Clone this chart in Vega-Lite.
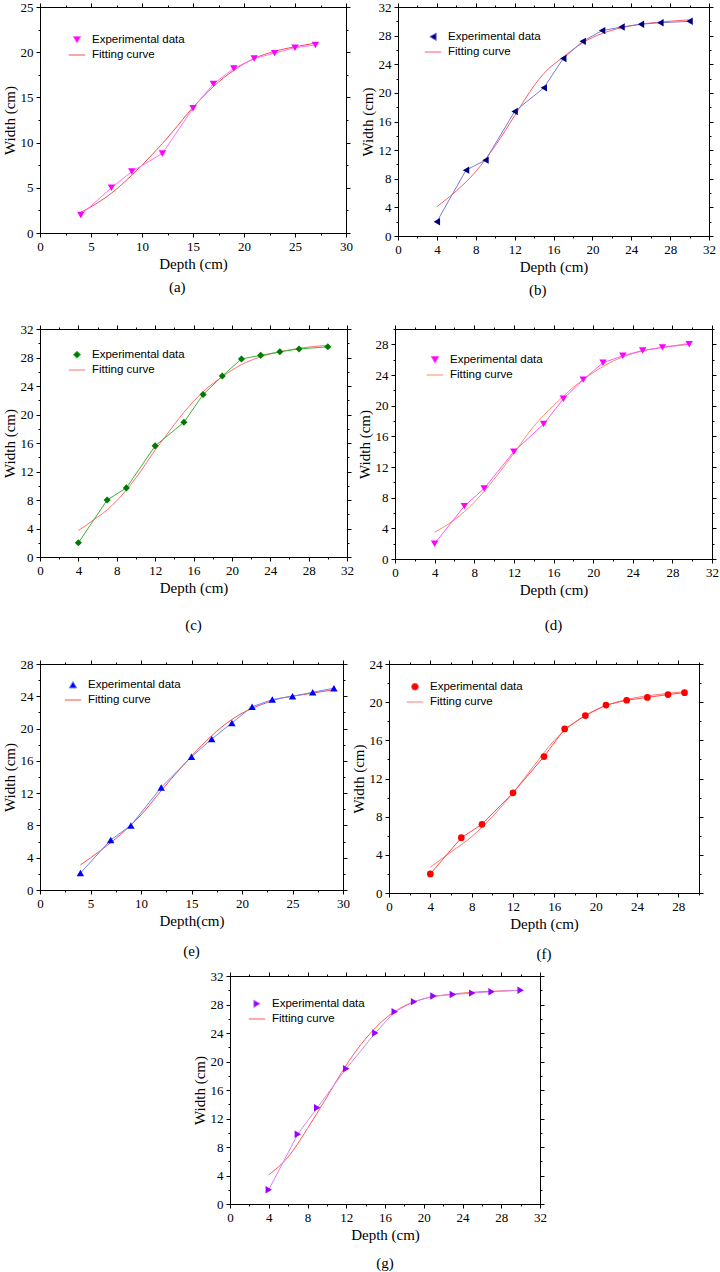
{
"$schema":"https://vega.github.io/schema/vega-lite/v6.json",
"background":"white",
"padding":{"left":1,"top":0,"right":0,"bottom":0},
"spacing":6,
"resolve":{"scale":{"stroke":"independent","fill":"independent","shape":"independent","size":"independent"},"legend":{"stroke":"independent","fill":"independent","shape":"independent","size":"independent"}},
"vconcat":[
{"spacing":23,
"resolve":{"scale":{"stroke":"independent","fill":"independent","shape":"independent","size":"independent"},"legend":{"stroke":"independent","fill":"independent","shape":"independent","size":"independent"}},
"vconcat":[
{"spacing":6,
"resolve":{"scale":{"stroke":"independent","fill":"independent","shape":"independent","size":"independent"},"legend":{"stroke":"independent","fill":"independent","shape":"independent","size":"independent"}},
"hconcat":[
{"width":306,"height":226,
"title":{"text":"(a)","orient":"bottom","offset":9,"frame":"bounds"},
"data":{"values":[
{"x":4,"y":2.0,"s":"Experimental data"},{"x":7,"y":5.0,"s":"Experimental data"},{"x":9,"y":6.8,"s":"Experimental data"},{"x":12,"y":8.8,"s":"Experimental data"},{"x":15,"y":13.8,"s":"Experimental data"},{"x":17,"y":16.5,"s":"Experimental data"},{"x":19,"y":18.2,"s":"Experimental data"},{"x":21,"y":19.3,"s":"Experimental data"},{"x":23,"y":19.9,"s":"Experimental data"},{"x":25,"y":20.5,"s":"Experimental data"},{"x":27,"y":20.8,"s":"Experimental data"},
{"x":4,"y":2.3,"s":"Fitting curve"},{"x":5,"y":2.9,"s":"Fitting curve"},{"x":7,"y":4.4,"s":"Fitting curve"},{"x":9,"y":6.4,"s":"Fitting curve"},{"x":10,"y":7.5,"s":"Fitting curve"},{"x":12,"y":9.9,"s":"Fitting curve"},{"x":13,"y":11.2,"s":"Fitting curve"},{"x":15,"y":13.9,"s":"Fitting curve"},{"x":17,"y":16.2,"s":"Fitting curve"},{"x":19,"y":18.0,"s":"Fitting curve"},{"x":21,"y":19.3,"s":"Fitting curve"},{"x":23,"y":20.1,"s":"Fitting curve"},{"x":25,"y":20.6,"s":"Fitting curve"},{"x":27,"y":21.0,"s":"Fitting curve"}
]},
"resolve":{"axis":{"x":"independent","y":"independent"}},
"layer":[
{"transform":[{"filter":"datum.s === 'Fitting curve'"}],
"mark":{"type":"line","interpolate":"monotone","strokeWidth":1},
"encoding":{
"x":{"field":"x","type":"quantitative","scale":{"domain":[0,30],"nice":false,"zero":false},"axis":{"orient":"bottom","title":"Depth (cm)","values":[0,2.5,5,7.5,10,12.5,15,17.5,20,22.5,25,27.5,30],"labelExpr":"datum.value % 5 === 0 ? datum.label : ''","tickSize":{"condition":{"test":"datum.value % 5 !== 0","value":2},"value":4}}},
"y":{"field":"y","type":"quantitative","scale":{"domain":[0,25],"nice":false,"zero":false},"axis":{"orient":"left","title":"Width (cm)","values":[0,2.5,5,7.5,10,12.5,15,17.5,20,22.5,25],"labelExpr":"datum.value % 5 === 0 ? datum.label : ''","tickSize":{"condition":{"test":"datum.value % 5 !== 0","value":2},"value":4}}},
"stroke":{"field":"s","type":"nominal","title":null,"scale":{"domain":["Experimental data","Fitting curve"],"range":["#ff70ff","#f0504a"]},"legend":{"legendX":28,"legendY":27}}}},
{"transform":[{"filter":"datum.s === 'Experimental data'"}],
"mark":{"type":"line","strokeWidth":1},
"encoding":{
"x":{"field":"x","type":"quantitative","axis":{"orient":"top","labels":false,"title":null,"values":[0,2.5,5,7.5,10,12.5,15,17.5,20,22.5,25,27.5,30],"tickSize":{"condition":{"test":"datum.value % 5 !== 0","value":2},"value":4}}},
"y":{"field":"y","type":"quantitative","axis":{"orient":"right","labels":false,"title":null,"values":[0,2.5,5,7.5,10,12.5,15,17.5,20,22.5,25],"tickSize":{"condition":{"test":"datum.value % 5 !== 0","value":2},"value":4}}},
"stroke":{"field":"s","type":"nominal","title":null,"legend":{"legendX":28,"legendY":27}}}},
{"transform":[{"filter":"datum.s === 'Experimental data'"}],
"mark":{"type":"point","filled":true,"opacity":1},
"encoding":{
"x":{"field":"x","type":"quantitative","axis":null},
"y":{"field":"y","type":"quantitative","axis":null},
"fill":{"field":"s","type":"nominal","title":null,"scale":{"domain":["Experimental data","Fitting curve"],"range":["#ff00ff","transparent"]},"legend":{"legendX":28,"legendY":27}},
"shape":{"field":"s","type":"nominal","title":null,"scale":{"domain":["Experimental data","Fitting curve"],"range":["triangle-down","stroke"]},"legend":{"legendX":28,"legendY":27}},
"size":{"field":"s","type":"ordinal","title":null,"scale":{"domain":["Experimental data","Fitting curve"],"range":[55,270]},"legend":{"legendX":28,"legendY":27}}}}
]},
{"width":311,"height":229,
"title":{"text":"(b)","orient":"bottom","offset":9,"frame":"bounds"},
"data":{"values":[
{"x":4,"y":2.0,"s":"Experimental data"},{"x":7,"y":9.2,"s":"Experimental data"},{"x":9,"y":10.6,"s":"Experimental data"},{"x":12,"y":17.4,"s":"Experimental data"},{"x":15,"y":20.7,"s":"Experimental data"},{"x":17,"y":24.8,"s":"Experimental data"},{"x":19,"y":27.2,"s":"Experimental data"},{"x":21,"y":28.7,"s":"Experimental data"},{"x":23,"y":29.2,"s":"Experimental data"},{"x":25,"y":29.6,"s":"Experimental data"},{"x":27,"y":29.8,"s":"Experimental data"},{"x":30,"y":30.0,"s":"Experimental data"},
{"x":4,"y":4.1,"s":"Fitting curve"},{"x":6,"y":6.3,"s":"Fitting curve"},{"x":8,"y":9.0,"s":"Fitting curve"},{"x":10,"y":12.6,"s":"Fitting curve"},{"x":12,"y":16.8,"s":"Fitting curve"},{"x":14,"y":21.0,"s":"Fitting curve"},{"x":15,"y":22.7,"s":"Fitting curve"},{"x":17,"y":25.0,"s":"Fitting curve"},{"x":19,"y":27.0,"s":"Fitting curve"},{"x":21,"y":28.3,"s":"Fitting curve"},{"x":23,"y":29.1,"s":"Fitting curve"},{"x":25,"y":29.6,"s":"Fitting curve"},{"x":27,"y":29.9,"s":"Fitting curve"},{"x":30,"y":30.2,"s":"Fitting curve"}
]},
"resolve":{"axis":{"x":"independent","y":"independent"}},
"layer":[
{"transform":[{"filter":"datum.s === 'Fitting curve'"}],
"mark":{"type":"line","interpolate":"monotone","strokeWidth":1},
"encoding":{
"x":{"field":"x","type":"quantitative","scale":{"domain":[0,32],"nice":false,"zero":false},"axis":{"orient":"bottom","title":"Depth (cm)","values":[0,2,4,6,8,10,12,14,16,18,20,22,24,26,28,30,32],"labelExpr":"datum.value % 4 === 0 ? datum.label : ''","tickSize":{"condition":{"test":"datum.value % 4 !== 0","value":2},"value":4}}},
"y":{"field":"y","type":"quantitative","scale":{"domain":[0,32],"nice":false,"zero":false},"axis":{"orient":"left","title":"Width (cm)","values":[0,2,4,6,8,10,12,14,16,18,20,22,24,26,28,30,32],"labelExpr":"datum.value % 4 === 0 ? datum.label : ''","tickSize":{"condition":{"test":"datum.value % 4 !== 0","value":2},"value":4}}},
"stroke":{"field":"s","type":"nominal","title":null,"scale":{"domain":["Experimental data","Fitting curve"],"range":["#7b7bd6","#ff5a6e"]},"legend":{"legendX":26,"legendY":24}}}},
{"transform":[{"filter":"datum.s === 'Experimental data'"}],
"mark":{"type":"line","strokeWidth":1},
"encoding":{
"x":{"field":"x","type":"quantitative","axis":{"orient":"top","labels":false,"title":null,"values":[0,2,4,6,8,10,12,14,16,18,20,22,24,26,28,30,32],"tickSize":{"condition":{"test":"datum.value % 4 !== 0","value":2},"value":4}}},
"y":{"field":"y","type":"quantitative","axis":{"orient":"right","labels":false,"title":null,"values":[0,2,4,6,8,10,12,14,16,18,20,22,24,26,28,30,32],"tickSize":{"condition":{"test":"datum.value % 4 !== 0","value":2},"value":4}}},
"stroke":{"field":"s","type":"nominal","title":null,"legend":{"legendX":26,"legendY":24}}}},
{"transform":[{"filter":"datum.s === 'Experimental data'"}],
"mark":{"type":"point","filled":true,"opacity":1},
"encoding":{
"x":{"field":"x","type":"quantitative","axis":null},
"y":{"field":"y","type":"quantitative","axis":null},
"fill":{"field":"s","type":"nominal","title":null,"scale":{"domain":["Experimental data","Fitting curve"],"range":["#00007f","transparent"]},"legend":{"legendX":26,"legendY":24}},
"shape":{"field":"s","type":"nominal","title":null,"scale":{"domain":["Experimental data","Fitting curve"],"range":["triangle-left","stroke"]},"legend":{"legendX":26,"legendY":24}},
"size":{"field":"s","type":"ordinal","title":null,"scale":{"domain":["Experimental data","Fitting curve"],"range":[55,270]},"legend":{"legendX":26,"legendY":24}}}}
]}
]},
{"spacing":2,
"resolve":{"scale":{"stroke":"independent","fill":"independent","shape":"independent","size":"independent"},"legend":{"stroke":"independent","fill":"independent","shape":"independent","size":"independent"}},
"hconcat":[
{"width":307,"height":228,
"title":{"text":"(c)","orient":"bottom","offset":23,"frame":"group"},
"data":{"values":[
{"x":4,"y":2.0,"s":"Experimental data"},{"x":7,"y":8.0,"s":"Experimental data"},{"x":9,"y":9.7,"s":"Experimental data"},{"x":12,"y":15.6,"s":"Experimental data"},{"x":15,"y":18.9,"s":"Experimental data"},{"x":17,"y":22.8,"s":"Experimental data"},{"x":19,"y":25.4,"s":"Experimental data"},{"x":21,"y":27.8,"s":"Experimental data"},{"x":23,"y":28.3,"s":"Experimental data"},{"x":25,"y":28.8,"s":"Experimental data"},{"x":27,"y":29.2,"s":"Experimental data"},{"x":30,"y":29.5,"s":"Experimental data"},
{"x":4,"y":3.7,"s":"Fitting curve"},{"x":6,"y":5.6,"s":"Fitting curve"},{"x":7,"y":6.6,"s":"Fitting curve"},{"x":8,"y":7.9,"s":"Fitting curve"},{"x":9,"y":9.4,"s":"Fitting curve"},{"x":10,"y":11.1,"s":"Fitting curve"},{"x":12,"y":15.0,"s":"Fitting curve"},{"x":13,"y":16.8,"s":"Fitting curve"},{"x":15,"y":20.3,"s":"Fitting curve"},{"x":17,"y":23.2,"s":"Fitting curve"},{"x":19,"y":25.3,"s":"Fitting curve"},{"x":21,"y":27.0,"s":"Fitting curve"},{"x":23,"y":28.1,"s":"Fitting curve"},{"x":25,"y":28.8,"s":"Fitting curve"},{"x":27,"y":29.3,"s":"Fitting curve"},{"x":30,"y":29.7,"s":"Fitting curve"}
]},
"resolve":{"axis":{"x":"independent","y":"independent"}},
"layer":[
{"transform":[{"filter":"datum.s === 'Fitting curve'"}],
"mark":{"type":"line","interpolate":"monotone","strokeWidth":1},
"encoding":{
"x":{"field":"x","type":"quantitative","scale":{"domain":[0,32],"nice":false,"zero":false},"axis":{"orient":"bottom","title":"Depth (cm)","values":[0,2,4,6,8,10,12,14,16,18,20,22,24,26,28,30,32],"labelExpr":"datum.value % 4 === 0 ? datum.label : ''","tickSize":{"condition":{"test":"datum.value % 4 !== 0","value":2},"value":4}}},
"y":{"field":"y","type":"quantitative","scale":{"domain":[0,32],"nice":false,"zero":false},"axis":{"orient":"left","title":"Width (cm)","values":[0,2,4,6,8,10,12,14,16,18,20,22,24,26,28,30,32],"labelExpr":"datum.value % 4 === 0 ? datum.label : ''","tickSize":{"condition":{"test":"datum.value % 4 !== 0","value":2},"value":4}}},
"stroke":{"field":"s","type":"nominal","title":null,"scale":{"domain":["Experimental data","Fitting curve"],"range":["#3cb43c","#ff7070"]},"legend":{"legendX":28,"legendY":20}}}},
{"transform":[{"filter":"datum.s === 'Experimental data'"}],
"mark":{"type":"line","strokeWidth":1},
"encoding":{
"x":{"field":"x","type":"quantitative","axis":{"orient":"top","labels":false,"title":null,"values":[0,2,4,6,8,10,12,14,16,18,20,22,24,26,28,30,32],"tickSize":{"condition":{"test":"datum.value % 4 !== 0","value":2},"value":4}}},
"y":{"field":"y","type":"quantitative","axis":{"orient":"right","labels":false,"title":null,"values":[0,2,4,6,8,10,12,14,16,18,20,22,24,26,28,30,32],"tickSize":{"condition":{"test":"datum.value % 4 !== 0","value":2},"value":4}}},
"stroke":{"field":"s","type":"nominal","title":null,"legend":{"legendX":28,"legendY":20}}}},
{"transform":[{"filter":"datum.s === 'Experimental data'"}],
"mark":{"type":"point","filled":true,"opacity":1},
"encoding":{
"x":{"field":"x","type":"quantitative","axis":null},
"y":{"field":"y","type":"quantitative","axis":null},
"fill":{"field":"s","type":"nominal","title":null,"scale":{"domain":["Experimental data","Fitting curve"],"range":["#007a00","transparent"]},"legend":{"legendX":28,"legendY":20}},
"shape":{"field":"s","type":"nominal","title":null,"scale":{"domain":["Experimental data","Fitting curve"],"range":["diamond","stroke"]},"legend":{"legendX":28,"legendY":20}},
"size":{"field":"s","type":"ordinal","title":null,"scale":{"domain":["Experimental data","Fitting curve"],"range":[50,270]},"legend":{"legendX":28,"legendY":20}}}}
]},
{"width":317,"height":230,
"title":{"text":"(d)","orient":"bottom","offset":21,"frame":"group"},
"data":{"values":[
{"x":4,"y":2.0,"s":"Experimental data"},{"x":7,"y":6.9,"s":"Experimental data"},{"x":9,"y":9.2,"s":"Experimental data"},{"x":12,"y":14.0,"s":"Experimental data"},{"x":15,"y":17.6,"s":"Experimental data"},{"x":17,"y":20.9,"s":"Experimental data"},{"x":19,"y":23.4,"s":"Experimental data"},{"x":21,"y":25.6,"s":"Experimental data"},{"x":23,"y":26.5,"s":"Experimental data"},{"x":25,"y":27.2,"s":"Experimental data"},{"x":27,"y":27.6,"s":"Experimental data"},{"x":29.7,"y":28.0,"s":"Experimental data"},
{"x":4,"y":3.5,"s":"Fitting curve"},{"x":6,"y":5.1,"s":"Fitting curve"},{"x":8,"y":7.4,"s":"Fitting curve"},{"x":10,"y":10.4,"s":"Fitting curve"},{"x":12,"y":13.8,"s":"Fitting curve"},{"x":14,"y":17.3,"s":"Fitting curve"},{"x":16,"y":20.0,"s":"Fitting curve"},{"x":18,"y":22.4,"s":"Fitting curve"},{"x":20,"y":24.3,"s":"Fitting curve"},{"x":22,"y":25.8,"s":"Fitting curve"},{"x":24,"y":26.8,"s":"Fitting curve"},{"x":26,"y":27.4,"s":"Fitting curve"},{"x":28,"y":27.8,"s":"Fitting curve"},{"x":29.7,"y":28.1,"s":"Fitting curve"}
]},
"resolve":{"axis":{"x":"independent","y":"independent"}},
"layer":[
{"transform":[{"filter":"datum.s === 'Fitting curve'"}],
"mark":{"type":"line","interpolate":"monotone","strokeWidth":1},
"encoding":{
"x":{"field":"x","type":"quantitative","scale":{"domain":[0,32],"nice":false,"zero":false},"axis":{"orient":"bottom","title":"Depth (cm)","values":[0,2,4,6,8,10,12,14,16,18,20,22,24,26,28,30,32],"labelExpr":"datum.value % 4 === 0 ? datum.label : ''","tickSize":{"condition":{"test":"datum.value % 4 !== 0","value":2},"value":4}}},
"y":{"field":"y","type":"quantitative","scale":{"domain":[0,30],"nice":false,"zero":false},"axis":{"orient":"left","title":"Width (cm)","values":[0,2,4,6,8,10,12,14,16,18,20,22,24,26,28,30],"labelExpr":"datum.value % 4 === 0 ? datum.label : ''","tickSize":{"condition":{"test":"datum.value % 4 !== 0","value":2},"value":4}}},
"stroke":{"field":"s","type":"nominal","title":null,"scale":{"domain":["Experimental data","Fitting curve"],"range":["#ff55ff","#ff8a6a"]},"legend":{"legendX":31,"legendY":25}}}},
{"transform":[{"filter":"datum.s === 'Experimental data'"}],
"mark":{"type":"line","strokeWidth":1},
"encoding":{
"x":{"field":"x","type":"quantitative","axis":{"orient":"top","labels":false,"title":null,"values":[0,2,4,6,8,10,12,14,16,18,20,22,24,26,28,30,32],"tickSize":{"condition":{"test":"datum.value % 4 !== 0","value":2},"value":4}}},
"y":{"field":"y","type":"quantitative","axis":{"orient":"right","labels":false,"title":null,"values":[0,2,4,6,8,10,12,14,16,18,20,22,24,26,28,30],"tickSize":{"condition":{"test":"datum.value % 4 !== 0","value":2},"value":4}}},
"stroke":{"field":"s","type":"nominal","title":null,"legend":{"legendX":31,"legendY":25}}}},
{"transform":[{"filter":"datum.s === 'Experimental data'"}],
"mark":{"type":"point","filled":true,"opacity":1},
"encoding":{
"x":{"field":"x","type":"quantitative","axis":null},
"y":{"field":"y","type":"quantitative","axis":null},
"fill":{"field":"s","type":"nominal","title":null,"scale":{"domain":["Experimental data","Fitting curve"],"range":["#ff00ff","transparent"]},"legend":{"legendX":31,"legendY":25}},
"shape":{"field":"s","type":"nominal","title":null,"scale":{"domain":["Experimental data","Fitting curve"],"range":["triangle-down","stroke"]},"legend":{"legendX":31,"legendY":25}},
"size":{"field":"s","type":"ordinal","title":null,"scale":{"domain":["Experimental data","Fitting curve"],"range":[55,270]},"legend":{"legendX":31,"legendY":25}}}}
]}
]},
{"spacing":0,
"resolve":{"scale":{"stroke":"independent","fill":"independent","shape":"independent","size":"independent"},"legend":{"stroke":"independent","fill":"independent","shape":"independent","size":"independent"}},
"hconcat":[
{"width":303,"height":226,
"title":{"text":"(e)","orient":"bottom","offset":16,"frame":"group"},
"data":{"values":[
{"x":4,"y":2.1,"s":"Experimental data"},{"x":7,"y":6.2,"s":"Experimental data"},{"x":9,"y":8.0,"s":"Experimental data"},{"x":12,"y":12.7,"s":"Experimental data"},{"x":15,"y":16.5,"s":"Experimental data"},{"x":17,"y":18.7,"s":"Experimental data"},{"x":19,"y":20.7,"s":"Experimental data"},{"x":21,"y":22.7,"s":"Experimental data"},{"x":23,"y":23.6,"s":"Experimental data"},{"x":25,"y":24.0,"s":"Experimental data"},{"x":27,"y":24.5,"s":"Experimental data"},{"x":29.1,"y":25.0,"s":"Experimental data"},
{"x":4,"y":3.1,"s":"Fitting curve"},{"x":6,"y":4.9,"s":"Fitting curve"},{"x":8,"y":6.9,"s":"Fitting curve"},{"x":10,"y":9.3,"s":"Fitting curve"},{"x":12,"y":12.3,"s":"Fitting curve"},{"x":14,"y":15.2,"s":"Fitting curve"},{"x":16,"y":17.9,"s":"Fitting curve"},{"x":18,"y":20.2,"s":"Fitting curve"},{"x":20,"y":21.9,"s":"Fitting curve"},{"x":22,"y":23.0,"s":"Fitting curve"},{"x":24,"y":23.8,"s":"Fitting curve"},{"x":26,"y":24.2,"s":"Fitting curve"},{"x":28,"y":24.6,"s":"Fitting curve"},{"x":29.1,"y":24.8,"s":"Fitting curve"}
]},
"resolve":{"axis":{"x":"independent","y":"independent"}},
"layer":[
{"transform":[{"filter":"datum.s === 'Fitting curve'"}],
"mark":{"type":"line","interpolate":"monotone","strokeWidth":1},
"encoding":{
"x":{"field":"x","type":"quantitative","scale":{"domain":[0,30],"nice":false,"zero":false},"axis":{"orient":"bottom","title":"Depth(cm)","values":[0,2.5,5,7.5,10,12.5,15,17.5,20,22.5,25,27.5,30],"labelExpr":"datum.value % 5 === 0 ? datum.label : ''","tickSize":{"condition":{"test":"datum.value % 5 !== 0","value":2},"value":4}}},
"y":{"field":"y","type":"quantitative","scale":{"domain":[0,28],"nice":false,"zero":false},"axis":{"orient":"left","title":"Width (cm)","values":[0,2,4,6,8,10,12,14,16,18,20,22,24,26,28],"labelExpr":"datum.value % 4 === 0 ? datum.label : ''","tickSize":{"condition":{"test":"datum.value % 4 !== 0","value":2},"value":4}}},
"stroke":{"field":"s","type":"nominal","title":null,"scale":{"domain":["Experimental data","Fitting curve"],"range":["#6a86ff","#ff4848"]},"legend":{"legendX":24,"legendY":15}}}},
{"transform":[{"filter":"datum.s === 'Experimental data'"}],
"mark":{"type":"line","strokeWidth":1},
"encoding":{
"x":{"field":"x","type":"quantitative","axis":{"orient":"top","labels":false,"title":null,"values":[0,2.5,5,7.5,10,12.5,15,17.5,20,22.5,25,27.5,30],"tickSize":{"condition":{"test":"datum.value % 5 !== 0","value":2},"value":4}}},
"y":{"field":"y","type":"quantitative","axis":{"orient":"right","labels":false,"title":null,"values":[0,2,4,6,8,10,12,14,16,18,20,22,24,26,28],"tickSize":{"condition":{"test":"datum.value % 4 !== 0","value":2},"value":4}}},
"stroke":{"field":"s","type":"nominal","title":null,"legend":{"legendX":24,"legendY":15}}}},
{"transform":[{"filter":"datum.s === 'Experimental data'"}],
"mark":{"type":"point","filled":true,"opacity":1},
"encoding":{
"x":{"field":"x","type":"quantitative","axis":null},
"y":{"field":"y","type":"quantitative","axis":null},
"fill":{"field":"s","type":"nominal","title":null,"scale":{"domain":["Experimental data","Fitting curve"],"range":["#0000ff","transparent"]},"legend":{"legendX":24,"legendY":15}},
"shape":{"field":"s","type":"nominal","title":null,"scale":{"domain":["Experimental data","Fitting curve"],"range":["triangle-up","stroke"]},"legend":{"legendX":24,"legendY":15}},
"size":{"field":"s","type":"ordinal","title":null,"scale":{"domain":["Experimental data","Fitting curve"],"range":[55,270]},"legend":{"legendX":24,"legendY":15}}}}
]},
{"width":310,"height":229,
"title":{"text":"(f)","orient":"bottom","offset":16,"frame":"group"},
"data":{"values":[
{"x":4,"y":2.0,"s":"Experimental data"},{"x":7,"y":5.8,"s":"Experimental data"},{"x":9,"y":7.2,"s":"Experimental data"},{"x":12,"y":10.5,"s":"Experimental data"},{"x":15,"y":14.3,"s":"Experimental data"},{"x":17,"y":17.2,"s":"Experimental data"},{"x":19,"y":18.6,"s":"Experimental data"},{"x":21,"y":19.7,"s":"Experimental data"},{"x":23,"y":20.2,"s":"Experimental data"},{"x":25,"y":20.5,"s":"Experimental data"},{"x":27,"y":20.8,"s":"Experimental data"},{"x":28.6,"y":21.0,"s":"Experimental data"},
{"x":4,"y":2.7,"s":"Fitting curve"},{"x":6,"y":4.3,"s":"Fitting curve"},{"x":8,"y":5.9,"s":"Fitting curve"},{"x":10,"y":8.0,"s":"Fitting curve"},{"x":12,"y":10.5,"s":"Fitting curve"},{"x":14,"y":13.3,"s":"Fitting curve"},{"x":16,"y":16.0,"s":"Fitting curve"},{"x":18,"y":17.9,"s":"Fitting curve"},{"x":20,"y":19.2,"s":"Fitting curve"},{"x":22,"y":20.0,"s":"Fitting curve"},{"x":24,"y":20.5,"s":"Fitting curve"},{"x":26,"y":20.8,"s":"Fitting curve"},{"x":28.6,"y":21.1,"s":"Fitting curve"}
]},
"resolve":{"axis":{"x":"independent","y":"independent"}},
"layer":[
{"transform":[{"filter":"datum.s === 'Fitting curve'"}],
"mark":{"type":"line","interpolate":"monotone","strokeWidth":1},
"encoding":{
"x":{"field":"x","type":"quantitative","scale":{"domain":[0,30],"nice":false,"zero":false},"axis":{"orient":"bottom","title":"Depth (cm)","values":[0,2,4,6,8,10,12,14,16,18,20,22,24,26,28,30],"labelExpr":"datum.value % 4 === 0 ? datum.label : ''","tickSize":{"condition":{"test":"datum.value % 4 !== 0","value":2},"value":4}}},
"y":{"field":"y","type":"quantitative","scale":{"domain":[0,24],"nice":false,"zero":false},"axis":{"orient":"left","title":"Width (cm)","values":[0,2,4,6,8,10,12,14,16,18,20,22,24],"labelExpr":"datum.value % 4 === 0 ? datum.label : ''","tickSize":{"condition":{"test":"datum.value % 4 !== 0","value":2},"value":4}}},
"stroke":{"field":"s","type":"nominal","title":null,"scale":{"domain":["Experimental data","Fitting curve"],"range":["#ff4a4a","#ff7a7a"]},"legend":{"legendX":17,"legendY":17}}}},
{"transform":[{"filter":"datum.s === 'Experimental data'"}],
"mark":{"type":"line","strokeWidth":1},
"encoding":{
"x":{"field":"x","type":"quantitative","axis":{"orient":"top","labels":false,"title":null,"values":[0,2,4,6,8,10,12,14,16,18,20,22,24,26,28,30],"tickSize":{"condition":{"test":"datum.value % 4 !== 0","value":2},"value":4}}},
"y":{"field":"y","type":"quantitative","axis":{"orient":"right","labels":false,"title":null,"values":[0,2,4,6,8,10,12,14,16,18,20,22,24],"tickSize":{"condition":{"test":"datum.value % 4 !== 0","value":2},"value":4}}},
"stroke":{"field":"s","type":"nominal","title":null,"legend":{"legendX":17,"legendY":17}}}},
{"transform":[{"filter":"datum.s === 'Experimental data'"}],
"mark":{"type":"point","filled":true,"opacity":1},
"encoding":{
"x":{"field":"x","type":"quantitative","axis":null},
"y":{"field":"y","type":"quantitative","axis":null},
"fill":{"field":"s","type":"nominal","title":null,"scale":{"domain":["Experimental data","Fitting curve"],"range":["#ff0000","transparent"]},"legend":{"legendX":17,"legendY":17}},
"shape":{"field":"s","type":"nominal","title":null,"scale":{"domain":["Experimental data","Fitting curve"],"range":["circle","stroke"]},"legend":{"legendX":17,"legendY":17}},
"size":{"field":"s","type":"ordinal","title":null,"scale":{"domain":["Experimental data","Fitting curve"],"range":[45,270]},"legend":{"legendX":17,"legendY":17}}}}
]}
]}
]},
{"spacing":0,
"resolve":{"scale":{"stroke":"independent","fill":"independent","shape":"independent","size":"independent"},"legend":{"stroke":"independent","fill":"independent","shape":"independent","size":"independent"}},
"hconcat":[
{"width":151,"height":228,"data":{"values":[]},"mark":{"type":"point"},"encoding":{},"view":{"stroke":null,"fill":"white"}},
{"width":310,"height":228,
"title":{"text":"(g)","orient":"bottom","offset":14,"frame":"group"},
"data":{"values":[
{"x":4,"y":2.0,"s":"Experimental data"},{"x":7,"y":9.8,"s":"Experimental data"},{"x":9,"y":13.5,"s":"Experimental data"},{"x":12,"y":19.0,"s":"Experimental data"},{"x":15,"y":24.0,"s":"Experimental data"},{"x":17,"y":27.0,"s":"Experimental data"},{"x":19,"y":28.4,"s":"Experimental data"},{"x":21,"y":29.2,"s":"Experimental data"},{"x":23,"y":29.4,"s":"Experimental data"},{"x":25,"y":29.6,"s":"Experimental data"},{"x":27,"y":29.8,"s":"Experimental data"},{"x":30,"y":30.0,"s":"Experimental data"},
{"x":4,"y":4.1,"s":"Fitting curve"},{"x":6,"y":6.6,"s":"Fitting curve"},{"x":8,"y":10.6,"s":"Fitting curve"},{"x":10,"y":15.0,"s":"Fitting curve"},{"x":12,"y":19.5,"s":"Fitting curve"},{"x":14,"y":23.2,"s":"Fitting curve"},{"x":16,"y":26.0,"s":"Fitting curve"},{"x":18,"y":27.8,"s":"Fitting curve"},{"x":20,"y":28.8,"s":"Fitting curve"},{"x":22,"y":29.3,"s":"Fitting curve"},{"x":24,"y":29.6,"s":"Fitting curve"},{"x":26,"y":29.8,"s":"Fitting curve"},{"x":28,"y":29.9,"s":"Fitting curve"},{"x":30,"y":30.0,"s":"Fitting curve"}
]},
"resolve":{"axis":{"x":"independent","y":"independent"}},
"layer":[
{"transform":[{"filter":"datum.s === 'Fitting curve'"}],
"mark":{"type":"line","interpolate":"monotone","strokeWidth":1},
"encoding":{
"x":{"field":"x","type":"quantitative","scale":{"domain":[0,32],"nice":false,"zero":false},"axis":{"orient":"bottom","title":"Depth (cm)","values":[0,2,4,6,8,10,12,14,16,18,20,22,24,26,28,30,32],"labelExpr":"datum.value % 4 === 0 ? datum.label : ''","tickSize":{"condition":{"test":"datum.value % 4 !== 0","value":2},"value":4}}},
"y":{"field":"y","type":"quantitative","scale":{"domain":[0,32],"nice":false,"zero":false},"axis":{"orient":"left","title":"Width (cm)","values":[0,2,4,6,8,10,12,14,16,18,20,22,24,26,28,30,32],"labelExpr":"datum.value % 4 === 0 ? datum.label : ''","tickSize":{"condition":{"test":"datum.value % 4 !== 0","value":2},"value":4}}},
"stroke":{"field":"s","type":"nominal","title":null,"scale":{"domain":["Experimental data","Fitting curve"],"range":["#cc88ff","#ff5a5a"]},"legend":{"legendX":18,"legendY":22}}}},
{"transform":[{"filter":"datum.s === 'Experimental data'"}],
"mark":{"type":"line","strokeWidth":1},
"encoding":{
"x":{"field":"x","type":"quantitative","axis":{"orient":"top","labels":false,"title":null,"values":[0,2,4,6,8,10,12,14,16,18,20,22,24,26,28,30,32],"tickSize":{"condition":{"test":"datum.value % 4 !== 0","value":2},"value":4}}},
"y":{"field":"y","type":"quantitative","axis":{"orient":"right","labels":false,"title":null,"values":[0,2,4,6,8,10,12,14,16,18,20,22,24,26,28,30,32],"tickSize":{"condition":{"test":"datum.value % 4 !== 0","value":2},"value":4}}},
"stroke":{"field":"s","type":"nominal","title":null,"legend":{"legendX":18,"legendY":22}}}},
{"transform":[{"filter":"datum.s === 'Experimental data'"}],
"mark":{"type":"point","filled":true,"opacity":1},
"encoding":{
"x":{"field":"x","type":"quantitative","axis":null},
"y":{"field":"y","type":"quantitative","axis":null},
"fill":{"field":"s","type":"nominal","title":null,"scale":{"domain":["Experimental data","Fitting curve"],"range":["#9a00ff","transparent"]},"legend":{"legendX":18,"legendY":22}},
"shape":{"field":"s","type":"nominal","title":null,"scale":{"domain":["Experimental data","Fitting curve"],"range":["triangle-right","stroke"]},"legend":{"legendX":18,"legendY":22}},
"size":{"field":"s","type":"ordinal","title":null,"scale":{"domain":["Experimental data","Fitting curve"],"range":[55,270]},"legend":{"legendX":18,"legendY":22}}}}
]}
]}
],
"config":{
"view":{"stroke":"black","strokeWidth":1},
"axis":{"grid":false,"domainColor":"black","domainWidth":1,"tickColor":"black","tickWidth":1,"labelColor":"black","titleColor":"black","labelFont":"Liberation Serif","labelFontSize":13,"titleFont":"Liberation Serif","titleFontSize":15,"titleFontWeight":"normal","labelPadding":3,"titlePadding":3,"labelOverlap":false,"labelFlush":false},
"legend":{"orient":"none","labelFont":"Liberation Sans","labelFontSize":11.5,"labelColor":"black","symbolStrokeWidth":1,"rowPadding":0,"labelOffset":6,"padding":0},
"title":{"font":"Liberation Serif","fontSize":15,"fontWeight":"normal","color":"black"}
}
}
